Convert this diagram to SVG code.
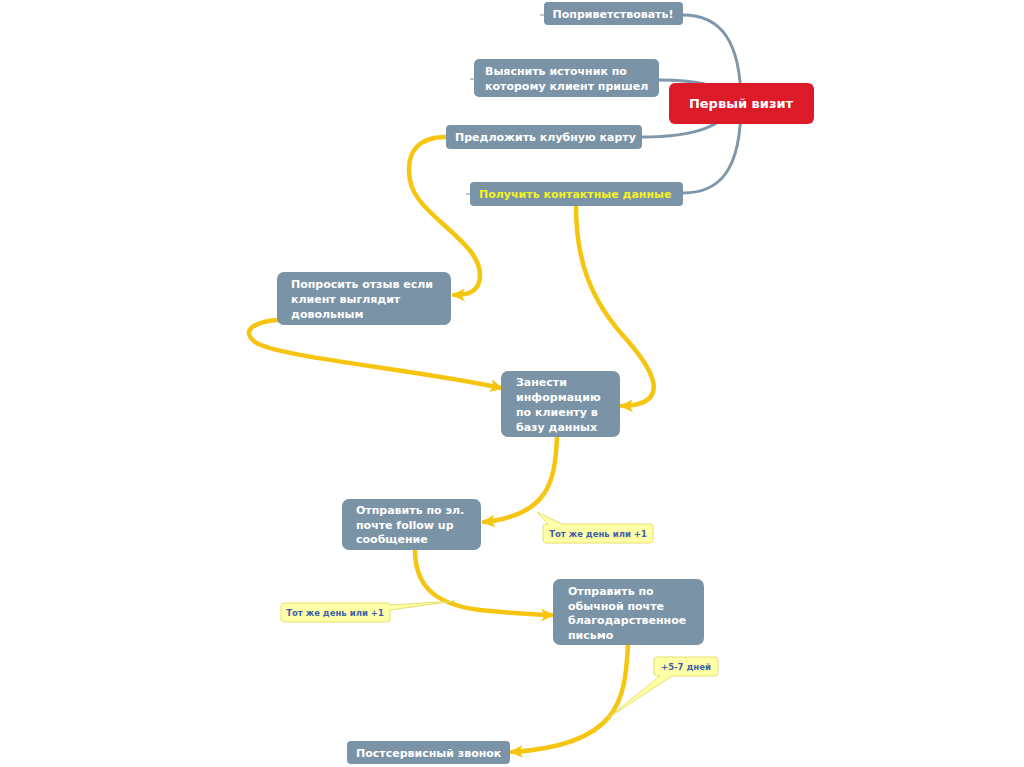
<svg xmlns="http://www.w3.org/2000/svg" width="1024" height="767" viewBox="0 0 1024 767">
<style>
.bg{fill:#ffffff}
.node{fill:#7A93A6}
.root{fill:#DC1B28}
.t{font-family:"DejaVu Sans","Liberation Sans",sans-serif;font-weight:bold;font-size:11px;fill:#ffffff}
.tr{font-family:"DejaVu Sans","Liberation Sans",sans-serif;font-weight:bold;font-size:13px;fill:#ffffff}
.ty{fill:#F4F41E}
.grey{fill:none;stroke:#7F97AA;stroke-width:3;stroke-linecap:round}
.stub{fill:none;stroke:#8FA3B3;stroke-width:1.2}
.yel{fill:none;stroke:#F6C50F;stroke-width:4.5;stroke-linecap:round}
.call{fill:#FFFFA8;stroke:#E6DE6E;stroke-width:1}
.ct{font-family:"DejaVu Sans","Liberation Sans",sans-serif;font-weight:bold;font-size:8.5px;fill:#3D5FA8;text-anchor:middle}
</style>
<defs>
<marker id="arr" viewBox="0 0 12 12" refX="10" refY="6" markerWidth="13" markerHeight="13" markerUnits="userSpaceOnUse" orient="auto">
<path d="M0,0 L12,6 L0,12 L3,6 Z" fill="#F6C50F"/>
</marker>
</defs>
<rect class="bg" x="0" y="0" width="1024" height="767"/>
<g id="connectors">
<path class="grey" d="M741,104 C741,40 720,15 683,15"/>
<path class="grey" d="M741,104 C720,85 700,80 659,80"/>
<path class="grey" d="M741,104 C720,125 700,137 642,137"/>
<path class="grey" d="M741,104 C741,170 720,193 683,193"/>
<path class="yel" marker-end="url(#arr)" d="M446,137 C420,137 405,150 410,180 C415,215 480,240 480,275 C480,292 468,295 454,295"/>
<path class="yel" marker-end="url(#arr)" d="M277,320 C255,322 240,330 255,342 C275,357 420,370 501,388"/>
<path class="yel" marker-end="url(#arr)" d="M576,206 C576,260 590,300 627,340 C662,380 665,405 622,406"/>
<path class="yel" marker-end="url(#arr)" d="M557,437 C555,480 550,515 484,522"/>
<path class="yel" marker-end="url(#arr)" d="M415,550 C415,590 440,605 480,610 C510,613 530,615 552,615"/>
<path class="yel" marker-end="url(#arr)" d="M628,645 C625,700 620,745 512,752"/>
</g>
<g id="callout1">
<path class="call" d="M546,524 L548,524 L537,512 L562,524 L650,524 Q653,524 653,527 L653,540 Q653,543 650,543 L546,543 Q543,543 543,540 L543,527 Q543,524 546,524 Z"/>
<text class="ct" x="598" y="537">Тот же день или +1</text>
</g>
<g id="callout2">
<path class="call" d="M284,603 L387,603 Q390,603 390,605 L455,601 L390,610 L390,619 Q390,622 387,622 L284,622 Q281,622 281,619 L281,606 Q281,603 284,603 Z"/>
<text class="ct" x="335" y="616">Тот же день или +1</text>
</g>
<g id="callout3">
<path class="call" d="M657,657 L715,657 Q718,657 718,660 L718,673 Q718,676 715,676 L672,676 L608,718 L660,676 L657,676 Q654,676 654,673 L654,660 Q654,657 657,657 Z"/>
<text class="ct" x="686" y="670">+5-7 дней</text>
</g>
<g id="n-greet">
<line class="stub" x1="540" y1="15" x2="544" y2="15"/>
<rect class="node" x="544" y="2" width="139" height="23" rx="4"/>
<text class="t" x="613" y="18" text-anchor="middle">Поприветствовать!</text>
</g>
<g id="n-source">
<line class="stub" x1="470" y1="79" x2="474" y2="79"/>
<rect class="node" x="474" y="59" width="185" height="38" rx="5"/>
<text class="t" x="485" y="75">Выяснить источник по</text>
<text class="t" x="485" y="90">которому клиент пришел</text>
</g>
<g id="n-card">
<rect class="node" x="446" y="125" width="196" height="24" rx="4"/>
<text class="t" x="455" y="141">Предложить клубную карту</text>
</g>
<g id="n-contact">
<line class="stub" x1="466" y1="194" x2="470" y2="194"/>
<rect class="node" x="470" y="182" width="213" height="24" rx="4"/>
<text class="t ty" x="479" y="198">Получить контактные данные</text>
</g>
<g id="n-root">
<rect class="root" x="669" y="83" width="145" height="41" rx="6"/>
<text class="tr" x="741" y="108" text-anchor="middle">Первый визит</text>
</g>
<g id="n-review">
<rect class="node" x="277" y="272" width="174" height="53" rx="7"/>
<text class="t" x="291" y="288">Попросить отзыв если</text>
<text class="t" x="291" y="303">клиент выглядит</text>
<text class="t" x="291" y="318">довольным</text>
</g>
<g id="n-db">
<rect class="node" x="501" y="371" width="119" height="66" rx="7"/>
<text class="t" x="516" y="386">Занести</text>
<text class="t" x="516" y="401">информацию</text>
<text class="t" x="516" y="416">по клиенту в</text>
<text class="t" x="516" y="431">базу данных</text>
</g>
<g id="n-email">
<rect class="node" x="342" y="499" width="139" height="51" rx="7"/>
<text class="t" x="356" y="514">Отправить по эл.</text>
<text class="t" x="356" y="529">почте follow up</text>
<text class="t" x="356" y="543">сообщение</text>
</g>
<g id="n-letter">
<rect class="node" x="553" y="579" width="151" height="66" rx="7"/>
<text class="t" x="568" y="595">Отправить по</text>
<text class="t" x="568" y="610">обычной почте</text>
<text class="t" x="568" y="624">благодарственное</text>
<text class="t" x="568" y="639">письмо</text>
</g>
<g id="n-call">
<rect class="node" x="347" y="741" width="163" height="23" rx="4"/>
<text class="t" x="356" y="757">Постсервисный звонок</text>
</g>
</svg>
